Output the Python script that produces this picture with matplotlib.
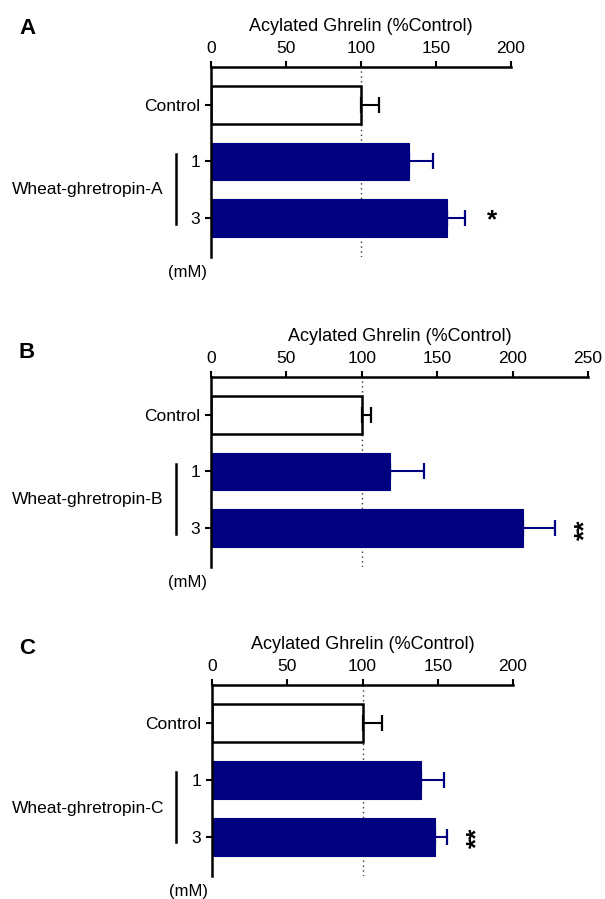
import matplotlib
matplotlib.use('Agg')
import matplotlib.pyplot as plt
import matplotlib.transforms as mtransforms

plt.rcParams['font.family'] = ['Liberation Sans', 'DejaVu Sans']

# Data
panel_letters = ['A', 'B', 'C']
compounds = ['Wheat-ghretropin-A', 'Wheat-ghretropin-B', 'Wheat-ghretropin-C']
categories = ['Control', '1', '3']
values_A = [100, 132, 157]
errors_A = [12, 16, 12]
values_B = [100, 119, 207]
errors_B = [6, 22, 21]
values_C = [100, 139, 148]
errors_C = [13, 15, 8]
signif_A = ['', '', '*']
signif_B = ['', '', '**']
signif_C = ['', '', '**']
xmax = [200, 250, 200]

NAVY = '#000080'
W, H = 605, 899
fig = plt.figure(figsize=(W / 100, H / 100), dpi=100)

# panel boxes in pixels: left, right, top, bottom
boxes = [(211, 511, 67, 257), (211, 588, 377, 567), (212, 513, 685, 876)]
letter_y = [29, 353, 649]

panels = [(values_A, errors_A, signif_A),
          (values_B, errors_B, signif_B),
          (values_C, errors_C, signif_C)]

for i, (vals, errs, sig) in enumerate(panels):
    l, r, t, b = boxes[i]
    ax = fig.add_axes([l / W, 1 - b / H, (r - l) / W, (b - t) / H])
    pos = list(range(len(categories)))
    colors = ['white', NAVY, NAVY]
    edges = ['black', NAVY, NAVY]
    ax.axvline(100, color='#333333', ls=(0, (1, 2.5)), lw=1.0, zorder=0)
    for p, v, e, c, ec in zip(pos, vals, errs, colors, edges):
        ax.barh(p, v, height=0.66, color=c, edgecolor=ec,
                linewidth=1.8 if c == 'white' else 0.8, zorder=2)
        ax.errorbar(v, p, xerr=[[0], [e]], fmt='none', ecolor=ec,
                    elinewidth=1.5, capsize=6, capthick=1.6, zorder=3)
    for p, v, e, s in zip(pos, vals, errs, sig):
        if s:
            double = len(s) > 1
            ax.annotate(s, xy=(v + e, p),
                        xytext=(22 if double else 20, -1 if double else -2),
                        textcoords='offset points', ha='center', va='center',
                        fontsize=19, fontweight='bold',
                        rotation=90 if double else 0)

    ax.set_xlim(0, xmax[i])
    ax.set_ylim(2.69, -0.67)
    ax.set_xticks(range(0, xmax[i] + 1, 50))
    ax.set_yticks(pos)
    ax.set_yticklabels(categories, fontsize=12.5)
    ax.xaxis.tick_top()
    ax.xaxis.set_label_position('top')
    ax.set_xlabel('Acylated Ghrelin (%Control)', fontsize=13, labelpad=7)
    ax.tick_params(axis='x', labelsize=12.5, length=4, width=1.5, pad=4)
    ax.tick_params(axis='y', length=4, width=1.5, pad=4)
    for side in ['right', 'bottom']:
        ax.spines[side].set_visible(False)
    for side in ['top', 'left']:
        ax.spines[side].set_linewidth(1.8)

    # group bracket and compound name
    tr = mtransforms.blended_transform_factory(fig.transFigure, ax.transData)
    ax.plot([176 / W, 176 / W], [0.86, 2.1], color='black', lw=1.8,
            transform=tr, clip_on=False)
    ax.text(88 / W, 1.5, compounds[i], transform=tr, ha='center',
            va='center', fontsize=12.5)
    ax.annotate('(mM)', xy=(0, 0), xycoords='axes fraction',
                xytext=(-17, -11), textcoords='offset points',
                ha='center', va='center', fontsize=12)

    fig.text(27 / W, 1 - letter_y[i] / H, panel_letters[i], ha='center',
             va='center', fontsize=16, fontweight='bold')

fig.savefig('out.png', dpi=100)
